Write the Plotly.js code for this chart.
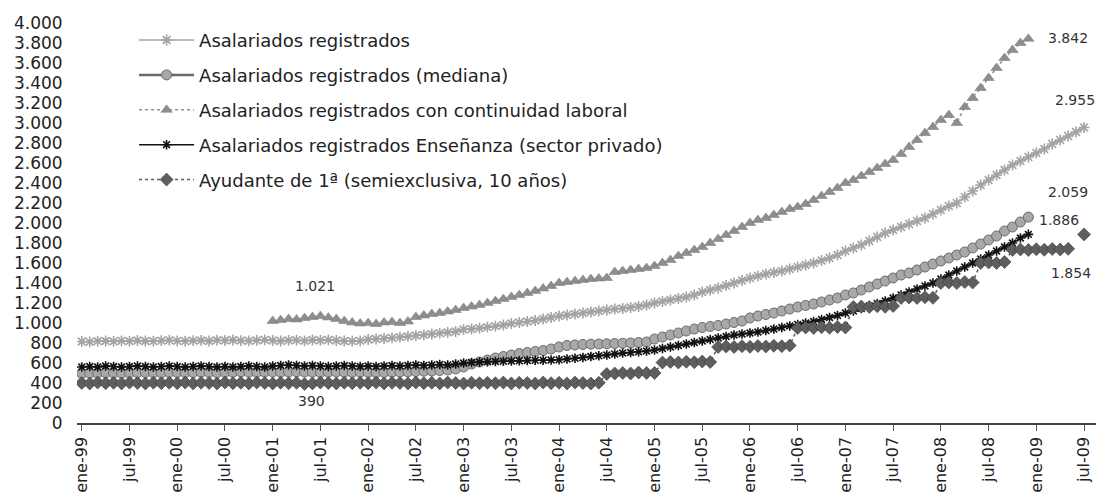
<!DOCTYPE html>
<html>
<head>
<meta charset="utf-8">
<script src="https://cdn.plot.ly/plotly-3.0.1.min.js"></script>
<style>html,body{margin:0;padding:0;background:#fff;}#chart{width:1102px;height:504px;}</style>
</head>
<body>
<div id="chart"></div>
<script>
// Month categories (ene-99 ... jul-09)
const monthNames = ['ene','feb','mar','abr','may','jun','jul','ago','sep','oct','nov','dic'];
const years = ['99','00','01','02','03','04','05','06','07','08','09'];
const categories = [];
years.forEach(y => monthNames.forEach(m => categories.push(m + '-' + y)));
categories.length = 127;

const tickLabels = ['ene-99','jul-99','ene-00','jul-00','ene-01','jul-01','ene-02','jul-02','ene-03','jul-03',
  'ene-04','jul-04','ene-05','jul-05','ene-06','jul-06','ene-07','jul-07','ene-08','jul-08','ene-09','jul-09'];
const yTickVals = [0,200,400,600,800,1000,1200,1400,1600,1800,2000,2200,2400,2600,2800,3000,3200,3400,3600,3800,4000];
const yTickText = ['0','200','400','600','800','1.000','1.200','1.400','1.600','1.800','2.000','2.200','2.400','2.600','2.800','3.000','3.200','3.400','3.600','3.800','4.000'];

const seriesNames = [
  'Asalariados registrados',
  'Asalariados registrados (mediana)',
  'Asalariados registrados con continuidad laboral',
  'Asalariados registrados Enseñanza (sector privado)',
  'Ayudante de 1ª (semiexclusiva, 10 años)'
];

// Asalariados registrados: ene-99 .. jul-09
const registradosStart = 'ene-99';
const registrados = [
  815, 812, 818, 820, 816, 822, 818, 825, 820, 818, 823, 828,
  822, 818, 824, 826, 820, 828, 825, 830, 824, 822, 826, 832,
  825, 820, 826, 828, 822, 830, 826, 832, 825, 820, 818, 822,
  835, 840, 845, 852, 858, 866, 875, 882, 890, 898, 906, 915,
  935, 940, 948, 958, 968, 980, 995, 1005, 1015, 1025, 1040, 1055,
  1070, 1080, 1090, 1100, 1110, 1120, 1130, 1140, 1145, 1155, 1165, 1180,
  1200, 1215, 1230, 1245, 1260, 1280, 1310, 1330, 1350, 1375, 1400, 1425,
  1450, 1470, 1490, 1505, 1520, 1540, 1560, 1580, 1600, 1625, 1650, 1680,
  1720, 1750, 1780, 1820, 1860, 1900, 1930, 1960, 1990, 2020, 2050, 2090,
  2130, 2170, 2200, 2260, 2320, 2380, 2430, 2480, 2530, 2580, 2620, 2660,
  2700, 2740, 2790, 2830, 2870, 2910, 2955
];

// Mediana: ene-99 .. dic-08
const medianaStart = 'ene-99';
const mediana = [
  495, 498, 500, 502, 500, 498, 500, 503, 505, 502, 500, 505,
  505, 503, 505, 508, 505, 503, 505, 508, 510, 507, 505, 510,
  510, 508, 510, 512, 510, 508, 505, 508, 510, 507, 505, 508,
  505, 503, 505, 508, 510, 512, 515, 518, 520, 525, 530, 540,
  560, 590, 610, 630, 650, 665, 680, 695, 705, 715, 725, 740,
  760, 775, 780, 785, 788, 790, 792, 795, 798, 800, 805, 810,
  840, 860, 880, 900, 920, 940, 955, 965, 975, 990, 1005, 1020,
  1050, 1070, 1085, 1100, 1120, 1140, 1160, 1175, 1190, 1210, 1230, 1250,
  1280, 1300, 1330, 1360, 1390, 1420, 1450, 1480, 1500, 1530, 1560, 1590,
  1620, 1650, 1680, 1710, 1750, 1790, 1830, 1870, 1920, 1960, 2010, 2059
];

// Continuidad laboral: ene-01 .. dic-08
const continuidadStart = 'ene-01';
const continuidad = [
  1021, 1030, 1040, 1035, 1050, 1060, 1070, 1055, 1040, 1020, 1005, 995,
  1000, 990, 1005, 1010, 1000, 1015, 1060, 1075, 1090, 1100, 1115, 1130,
  1150, 1165, 1180, 1200, 1220, 1240, 1260, 1280, 1300, 1320, 1345, 1370,
  1400, 1410, 1420, 1430, 1440, 1445, 1450, 1510, 1520, 1530, 1540, 1550,
  1570, 1600, 1630, 1670, 1700, 1730, 1760, 1800, 1840, 1880, 1920, 1960,
  2000, 2030, 2050, 2080, 2110, 2140, 2160, 2190, 2230, 2270, 2310, 2350,
  2400, 2430, 2470, 2510, 2550, 2590, 2630, 2690, 2760, 2830, 2900, 2960,
  3030, 3080, 3000, 3160, 3250, 3350, 3450, 3550, 3650, 3730, 3800, 3842
];

// Enseñanza (sector privado): ene-99 .. dic-08
const ensenanzaStart = 'ene-99';
const ensenanza = [
  560, 565, 560, 570, 565, 560, 565, 570, 565, 560, 565, 570,
  565, 560, 565, 570, 565, 560, 565, 560, 565, 570, 565, 560,
  570, 575, 580, 575, 570, 575, 570, 565, 570, 575, 570, 565,
  570, 565, 570, 575, 570, 575, 580, 575, 580, 585, 580, 590,
  600, 605, 610, 612, 615, 618, 620, 622, 625, 627, 628, 630,
  632, 640, 648, 655, 665, 672, 680, 690, 700, 705, 712, 720,
  730, 745, 760, 775, 790, 805, 820, 835, 850, 865, 880, 890,
  900, 910, 925, 940, 955, 970, 985, 1000, 1015, 1035, 1055, 1075,
  1100, 1120, 1145, 1170, 1195, 1220, 1250, 1280, 1310, 1340, 1370, 1400,
  1440, 1480, 1520, 1560, 1600, 1640, 1680, 1720, 1760, 1800, 1850, 1886
];

// Ayudante de 1ª: ene-99 .. jul-09
const ayudanteStart = 'ene-99';
const ayudante = [
  400, 395, 405, 398, 402, 396, 404, 400, 395, 403, 398, 402,
  398, 404, 396, 402, 400, 395, 405, 398, 402, 396, 404, 400,
  395, 403, 398, 402, 390, 396, 404, 400, 395, 403, 398, 402,
  398, 404, 396, 402, 400, 395, 405, 398, 402, 396, 404, 400,
  395, 403, 398, 402, 398, 404, 396, 402, 400, 395, 405, 398,
  402, 396, 404, 400, 395, 403, 490, 495, 500, 495, 505, 500,
  500, 605, 610, 605, 612, 608, 615, 610, 760, 765, 760, 768,
  762, 770, 765, 772, 768, 775, 950, 955, 950, 958, 952, 960,
  955, 1160, 1165, 1160, 1168, 1162, 1170, 1250, 1255, 1250, 1258, 1252,
  1400, 1405, 1400, 1410, 1405, 1600, 1605, 1600, 1610, 1730, 1735, 1730,
  1738, 1732, 1740, 1735, 1742, null, 1886
];

function xs(start, vals) {
  const i = categories.indexOf(start);
  return categories.slice(i, i + vals.length);
}

const FONT = 'DejaVu Sans, Arial, sans-serif';

const traces = [
  {
    name: seriesNames[0], x: xs(registradosStart, registrados), y: registrados,
    mode: 'lines+markers', legendgroup: 'a',
    line: {color: '#a3a3a3', width: 1.5},
    marker: {symbol: 'asterisk-open', size: 9, color: '#a3a3a3', line: {color: '#a3a3a3', width: 1.6}}
  },
  {
    name: seriesNames[1], x: xs(medianaStart, mediana), y: mediana,
    mode: 'lines+markers', legendgroup: 'b',
    line: {color: '#6a6a6a', width: 2.5},
    marker: {symbol: 'circle', size: 10, color: '#a8a8a8', line: {color: '#6a6a6a', width: 1}}
  },
  {
    name: seriesNames[2], x: xs(continuidadStart, continuidad), y: continuidad,
    mode: 'lines+markers', legendgroup: 'c',
    line: {color: '#8e8e8e', width: 1.5, dash: 'dot'},
    marker: {symbol: 'triangle-up', size: 10, color: '#8e8e8e', line: {color: '#7a7a7a', width: 0.5}}
  },
  {
    name: seriesNames[3], x: xs(ensenanzaStart, ensenanza), y: ensenanza,
    mode: 'lines+markers', legendgroup: 'd',
    line: {color: '#111111', width: 1.5},
    marker: {symbol: 'asterisk-open', size: 8, color: '#111111', line: {color: '#111111', width: 1.6}}
  },
  {
    name: seriesNames[4], x: xs(ayudanteStart, ayudante), y: ayudante,
    mode: 'lines+markers', legendgroup: 'e',
    line: {color: '#5a5a5a', width: 1.5, dash: 'dot'},
    marker: {symbol: 'diamond', size: 10, color: '#5e5e5e', line: {color: '#3c3c3c', width: 0.6}}
  }
];

const labelFont = {family: FONT, size: 14, color: '#333333'};
function lbl(text, x, y) {
  return {text: text, x: x, y: y, xref: 'x', yref: 'y', showarrow: false, font: labelFont, xanchor: 'center', yanchor: 'middle'};
}

const layout = {
  width: 1102, height: 504,
  margin: {l: 77, r: 6, t: 23, b: 81, pad: 0},
  paper_bgcolor: '#ffffff', plot_bgcolor: '#ffffff',
  showlegend: true,
  legend: {
    x: 0.056, y: 1.003, xanchor: 'left', yanchor: 'top',
    bgcolor: 'rgba(255,255,255,0)', borderwidth: 0,
    font: {family: FONT, size: 18, color: '#222222'},
    traceorder: 'grouped', tracegroupgap: 8.5, itemwidth: 55
  },
  xaxis: {
    type: 'category', range: [-0.6, 127.5],
    tickmode: 'array', tickvals: tickLabels, ticktext: tickLabels,
    tickangle: -90, ticks: 'outside', ticklen: 6, tickcolor: '#555555', tickwidth: 1,
    showline: true, linecolor: '#444444', linewidth: 1.5,
    showgrid: false, zeroline: false,
    tickfont: {family: FONT, size: 16, color: '#222222'},
    fixedrange: true
  },
  yaxis: {
    range: [0, 4000], tickmode: 'array', tickvals: yTickVals, ticktext: yTickText,
    ticks: 'outside', ticklen: 10, tickcolor: 'rgba(0,0,0,0)',
    showline: false, showgrid: false, zeroline: false,
    tickfont: {family: FONT, size: 17, color: '#222222'},
    fixedrange: true
  },
  annotations: [
    lbl('1.021', 29.3, 1370),
    lbl('390', 28.9, 220),
    lbl('3.842', 124, 3850),
    lbl('2.955', 124.9, 3230),
    lbl('2.059', 124, 2310),
    lbl('1.886', 122.9, 2030),
    lbl('1.854', 124.4, 1500)
  ]
};

Plotly.newPlot('chart', traces, layout, {displayModeBar: false, staticPlot: true});
</script>
</body>
</html>
